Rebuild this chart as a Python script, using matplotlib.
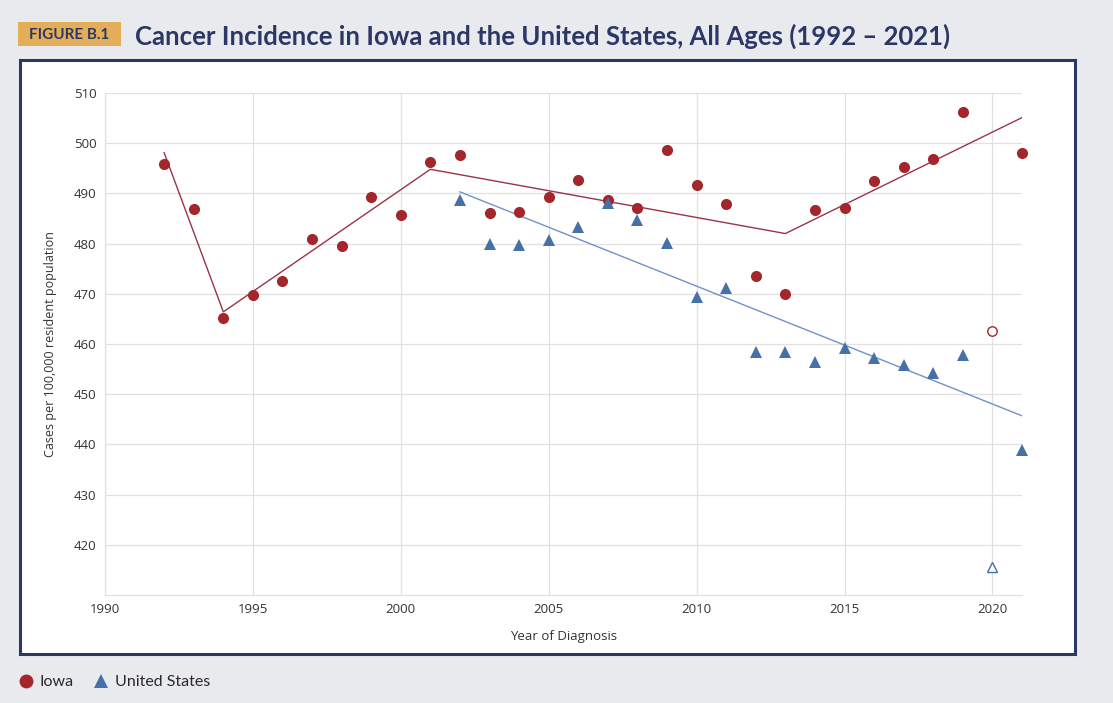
import matplotlib
matplotlib.use("Agg")
import matplotlib.pyplot as plt
from matplotlib.patches import Rectangle
from matplotlib.lines import Line2D

# ---------------- data ----------------
iowa_years = [1992, 1993, 1994, 1995, 1996, 1997, 1998, 1999, 2000, 2001,
              2002, 2003, 2004, 2005, 2006, 2007, 2008, 2009, 2010, 2011,
              2012, 2013, 2014, 2015, 2016, 2017, 2018, 2019, 2021]
iowa_rates = [495.8, 486.8, 465.2, 469.8, 472.5, 480.9, 479.5, 489.2, 485.6, 496.3,
              497.6, 486.1, 486.2, 489.3, 492.6, 488.6, 487.1, 498.6, 491.6, 487.9,
              473.5, 470.0, 486.6, 487.0, 492.4, 495.3, 496.9, 506.3, 498.0]
iowa_excl_year = [2020]
iowa_excl_rate = [462.5]

us_years = [2002, 2003, 2004, 2005, 2006, 2007, 2008, 2009, 2010, 2011,
            2012, 2013, 2014, 2015, 2016, 2017, 2018, 2019, 2021]
us_rates = [488.6, 480.0, 479.8, 480.8, 483.3, 488.1, 484.8, 480.1, 469.3, 471.1,
            458.4, 458.5, 456.4, 459.2, 457.2, 455.8, 454.2, 457.9, 438.9]
us_excl_year = [2020]
us_excl_rate = [415.6]

iowa_trend_years = [1992, 1994, 2001, 2013, 2021]
iowa_trend_rates = [498.1, 466.4, 494.8, 482.0, 505.1]
us_trend_years = [2002, 2021]
us_trend_rates = [490.3, 445.7]

x_ticks = [1990, 1995, 2000, 2005, 2010, 2015, 2020]
y_ticks = [420, 430, 440, 450, 460, 470, 480, 490, 500, 510]

# ---------------- style ----------------
W, H = 1113, 703
IOWA = "#A3262C"
IOWA_LINE = "#9A3447"
US = "#4671A8"
US_LINE = "#6F93C4"
NAVY = "#2B3766"
BG = "#E9EAEE"
GRID = "#E1E1E1"
TXT = "#333333"
FONT = ["Open Sans", "DejaVu Sans"]

fig = plt.figure(figsize=(W / 100, H / 100), dpi=100, facecolor=BG)

def fx(px):
    return px / W

def fy(py):
    return 1 - py / H

# white framed panel
panel = Rectangle((fx(20), fy(654)), fx(1075) - fx(20), fy(60) - fy(654),
                  transform=fig.transFigure, facecolor="white",
                  edgecolor=NAVY, linewidth=2.2, zorder=0)
fig.add_artist(panel)

# title label box
box = Rectangle((fx(18), fy(46)), fx(121) - fx(18), fy(22) - fy(46),
                transform=fig.transFigure, facecolor="#E4AE58",
                edgecolor="none", zorder=1)
fig.add_artist(box)
fig.text(fx(69.5), fy(35), "FIGURE B.1", ha="center", va="center",
         fontsize=11, fontweight="bold", color=NAVY, family=["Lato", "DejaVu Sans"])
fig.text(fx(135), fy(36), "Cancer Incidence in Iowa and the United States, All Ages (1992 \u2013 2021)",
         ha="left", va="center", fontsize=18.5, fontweight="bold", color=NAVY,
         family=["Lato", "DejaVu Sans"])

ax = fig.add_axes([fx(105), fy(595), fx(1022) - fx(105), fy(93) - fy(595)])
ax.set_facecolor("white")
ax.set_xlim(1990, 2021)
ax.set_ylim(410, 510)
ax.set_xticks(x_ticks)
ax.set_yticks(y_ticks)
ax.grid(True, color=GRID, linewidth=0.9)
ax.set_axisbelow(True)
for s in ["top", "right"]:
    ax.spines[s].set_visible(False)
for s in ["left", "bottom"]:
    ax.spines[s].set_color(GRID)
    ax.spines[s].set_linewidth(0.9)
ax.tick_params(length=0, labelsize=9.5, labelcolor=TXT, pad=6)
for lab in ax.get_xticklabels() + ax.get_yticklabels():
    lab.set_family(FONT)

# trend lines
ax.plot(iowa_trend_years, iowa_trend_rates, color=IOWA_LINE, linewidth=1.0, zorder=2)
ax.plot(us_trend_years, us_trend_rates, color=US_LINE, linewidth=1.0, zorder=2)

# observed points
ax.plot(iowa_years, iowa_rates, linestyle="none", marker="o", markersize=8,
        color=IOWA, markeredgewidth=0, zorder=3, clip_on=False)
ax.plot(us_years, us_rates, linestyle="none", marker="^", markersize=8.5,
        color=US, markeredgewidth=0, zorder=3, clip_on=False)
ax.plot(iowa_excl_year, iowa_excl_rate, linestyle="none", marker="o", markersize=6.8,
        markerfacecolor="white", markeredgecolor=IOWA, markeredgewidth=1.0, zorder=3)
ax.plot(us_excl_year, us_excl_rate, linestyle="none", marker="^", markersize=7,
        markerfacecolor="white", markeredgecolor=US, markeredgewidth=1.0, zorder=3)

ax.set_xlabel("Year of Diagnosis", fontsize=9.5, color=TXT, family=FONT, labelpad=10)
ax.set_ylabel("Cases per 100,000 resident population", fontsize=9, color=TXT,
              family=FONT, labelpad=12)

handles = [
    Line2D([], [], linestyle="none", marker="o", markersize=10, color=IOWA, markeredgewidth=0),
    Line2D([], [], linestyle="none", marker="^", markersize=10, color=US, markeredgewidth=0),
]
fig.legend(handles, ["Iowa", "United States"], loc="center left",
           bbox_to_anchor=(fx(4), fy(682)), frameon=False, ncol=2,
           handlelength=1.0, handletextpad=0.35, columnspacing=1.2,
           prop={"family": ["Lato", "DejaVu Sans"], "size": 11.5}, labelcolor="#2A2A2A")

fig.savefig("out.png", dpi=100, facecolor=BG)
